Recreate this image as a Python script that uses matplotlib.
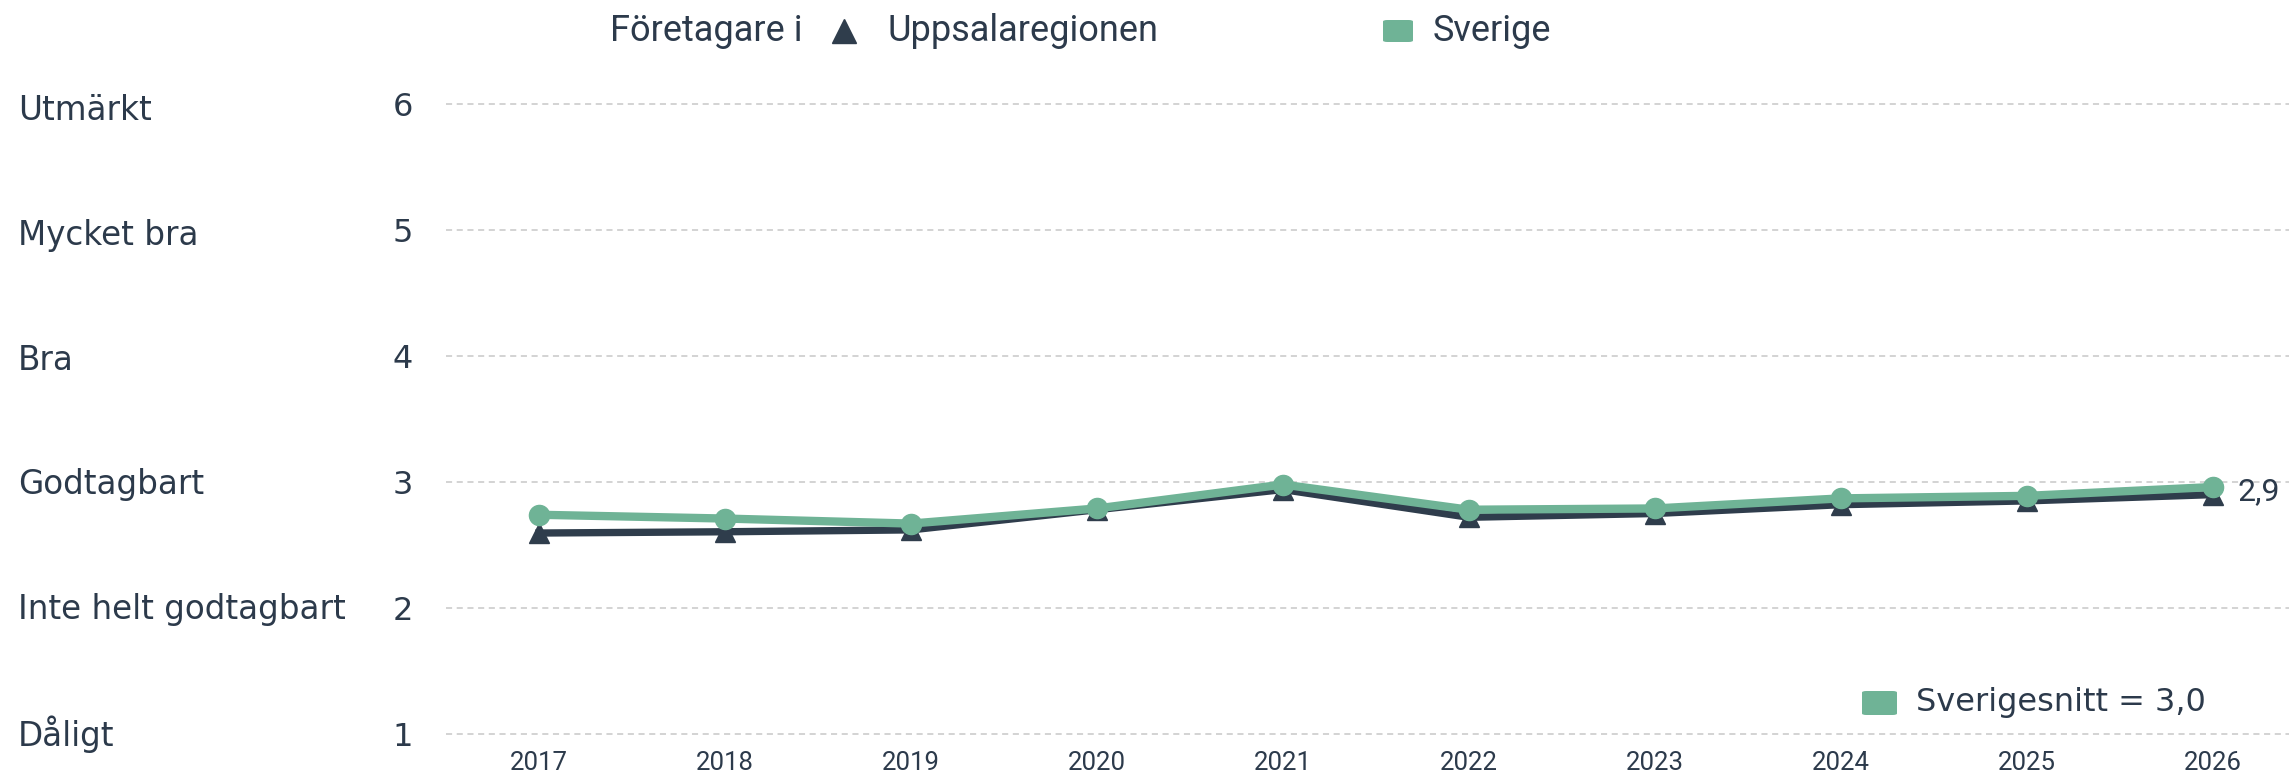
import matplotlib
matplotlib.use('Agg')
import matplotlib.pyplot as plt
from matplotlib.lines import Line2D
from matplotlib.patches import FancyBboxPatch

# data
years = [2017, 2018, 2019, 2020, 2021, 2022, 2023, 2024, 2025, 2026]
uppsala = [2.595, 2.605, 2.62, 2.78, 2.94, 2.72, 2.75, 2.82, 2.85, 2.90]
sverige = [2.74, 2.71, 2.67, 2.79, 2.98, 2.78, 2.79, 2.87, 2.89, 2.96]
yticks = [1, 2, 3, 4, 5, 6]
kategorier = ['Dåligt', 'Inte helt godtagbart', 'Godtagbart', 'Bra', 'Mycket bra', 'Utmärkt']
sista_etikett = '2,9'
snitt_text = 'Sverigesnitt = 3,0'

W, H = 2293, 779
mork = '#2f3d4c'
gron = '#6fb396'
text_farg = '#2c3a4b'

fig = plt.figure(figsize=(W / 100, H / 100), dpi=100)
ax = fig.add_axes([446 / W, 1 - 734 / H, (2289 - 446) / W, (734 - 104) / H])

ax.plot(years, uppsala, color=mork, lw=5.3, marker='^', markersize=14, zorder=3, clip_on=False)
ax.plot(years, sverige, color=gron, lw=6, marker='o', markersize=14.5, zorder=4, clip_on=False)

ax.text(years[-1] + 0.135, uppsala[-1] + 0.02, sista_etikett, fontsize=23, family='Roboto',
        color=text_farg, va='center', ha='left')

ax.set_xlim(2016.5, 2026.41)
ax.set_ylim(1, 6)
ax.set_yticks(yticks)
ax.set_xticks(years)
ax.set_xticklabels([str(y) for y in years], fontsize=18.5, family='Roboto', color=text_farg)
ax.set_yticklabels([str(v) for v in yticks], fontsize=23, family='DejaVu Sans', color=text_farg)
ax.tick_params(axis='y', length=0, pad=24)
ax.tick_params(axis='x', length=0, pad=12)

for v in yticks:
    ax.axhline(v, color='#c8c8c8', lw=1.1, ls=(0, (4, 3)), zorder=1, clip_on=False)

for s in ax.spines.values():
    s.set_visible(False)

# kategorietiketter till vänster (lite tätare än rutnätet, som i förlagan)
for i, k in enumerate(kategorier):
    ypix = 734 - i * 124.6
    fig.text(18 / W, 1 - ypix / H, k, fontsize=23.5, family='DejaVu Sans',
             color=text_farg, va='center', ha='left')

# legend överst
ly = 1 - 31 / H
fig.text(610 / W, ly, 'Företagare i', fontsize=26, family='Roboto', color=text_farg, va='center')
fig.add_artist(Line2D([844 / W], [ly], marker='^', markersize=17, color=mork, transform=fig.transFigure))
fig.text(888 / W, ly, 'Uppsalaregionen', fontsize=26, family='Roboto', color=text_farg, va='center')
fig.add_artist(FancyBboxPatch((1383 / W, ly - 11 / H), 30 / W, 22 / H,
                              boxstyle='round,pad=0,rounding_size=0.002', transform=fig.transFigure,
                              color=gron, lw=0))
fig.text(1433 / W, ly, 'Sverige', fontsize=26, family='Roboto', color=text_farg, va='center')

# sverigesnitt
by = 1 - 703 / H
fig.add_artist(FancyBboxPatch((1862 / W, by - 12 / H), 35 / W, 24 / H,
                              boxstyle='round,pad=0,rounding_size=0.002', transform=fig.transFigure,
                              color=gron, lw=0))
fig.text(1916 / W, by, snitt_text, fontsize=23, family='DejaVu Sans', color=text_farg, va='center')

fig.savefig('out.png', dpi=100)
